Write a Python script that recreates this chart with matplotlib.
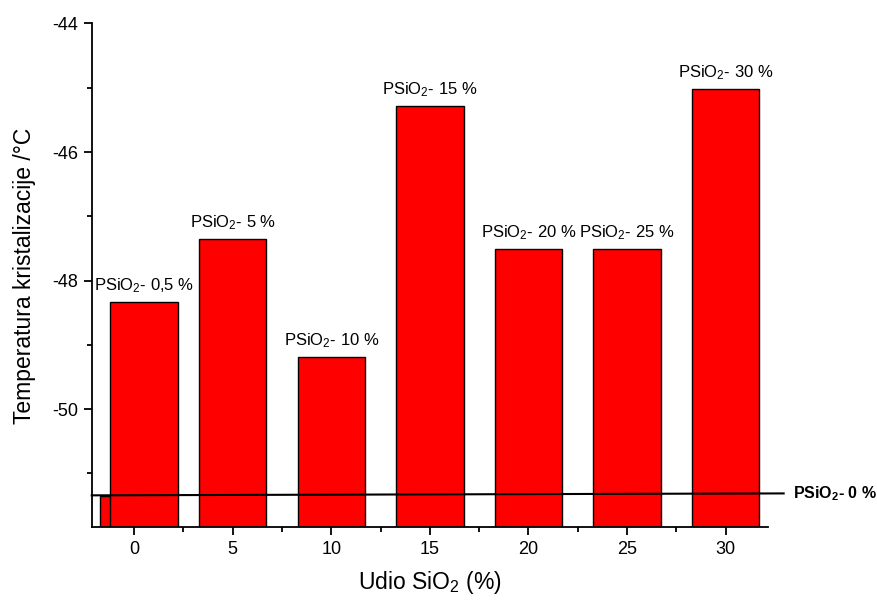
import matplotlib.pyplot as plt
from matplotlib.ticker import MultipleLocator

plt.rcParams["font.family"] = ["Liberation Sans", "DejaVu Sans"]
plt.rcParams["mathtext.fontset"] = "custom"
plt.rcParams["mathtext.rm"] = "Liberation Sans"
plt.rcParams["mathtext.it"] = "Liberation Sans:italic"
plt.rcParams["mathtext.bf"] = "Liberation Sans:bold"
plt.rcParams["axes.unicode_minus"] = False

# silica content (%) and crystallisation temperature (deg C)
udio = [0, 0.5, 5, 10, 15, 20, 25, 30]
temperatura = [-51.35, -48.33, -47.35, -49.19, -45.29, -47.51, -47.51, -45.02]
oznake = ["", "0,5", "5", "10", "15", "20", "25", "30"]
referentna = [-51.34, -51.31]  # PSiO2 - 0 % reference line
x_ticks = [0, 5, 10, 15, 20, 25, 30]

fig = plt.figure(figsize=(8.77, 6.07), dpi=100)
ax = fig.add_axes([0.1046, 0.131, 0.771, 0.8303])

ymin = -51.84
ax.bar(udio, [t - ymin for t in temperatura], bottom=ymin, width=3.42,
       color="#ff0000", edgecolor="black", linewidth=1.0)

for x, t, o in zip(udio, temperatura, oznake):
    if not o:
        continue
    ax.annotate(f"PSiO$_2$- {o} %", (x, t), xytext=(0, 5),
                textcoords="offset points", ha="center", va="bottom",
                fontsize=12)

ax.plot([-2.15, 32.95], referentna, color="black", lw=1.5, clip_on=False)
ax.text(33.4, referentna[1], r"PSiO$_\mathbf{2}$- 0 %", fontsize=11.5,
        fontweight="bold", va="center", ha="left")

ax.set_xlim(-2.15, 32.15)
ax.set_ylim(ymin, -44)
ax.set_xticks(x_ticks)
ax.xaxis.set_minor_locator(MultipleLocator(2.5))
ax.yaxis.set_major_locator(MultipleLocator(2))
ax.yaxis.set_minor_locator(MultipleLocator(1))
ax.tick_params(which="major", length=6, width=1.3, labelsize=13, direction="out")
ax.tick_params(which="minor", length=3.5, width=1.3, direction="out")

for s in ("top", "right"):
    ax.spines[s].set_visible(False)
for s in ("left", "bottom"):
    ax.spines[s].set_linewidth(1.3)

ax.set_xlabel("Udio SiO$_2$ (%)", fontsize=16.5, labelpad=8)
ax.set_ylabel("Temperatura kristalizacije /°C", fontsize=16.5, labelpad=12)

fig.savefig("out.png", dpi=100)
